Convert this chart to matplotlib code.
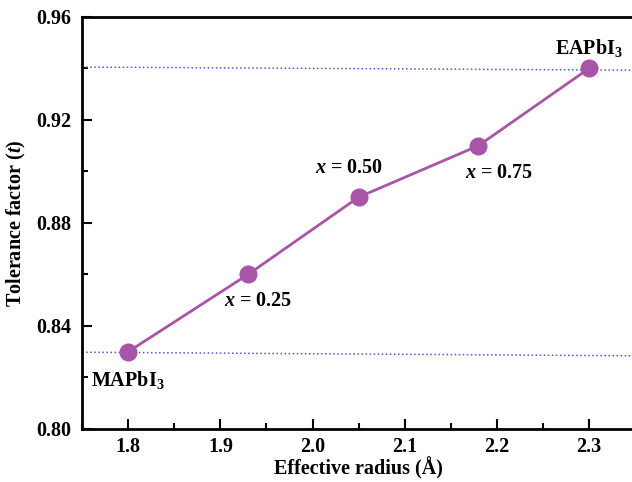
import matplotlib.pyplot as plt
from matplotlib.ticker import MultipleLocator

radius = [1.80, 1.93, 2.05, 2.18, 2.30]
tolerance = [0.83, 0.86, 0.89, 0.91, 0.94]
labels = ['MAPbI$_3$', '$\\mathbfit{x}$ = 0.25', '$\\mathbfit{x}$ = 0.50',
          '$\\mathbfit{x}$ = 0.75', 'EAPbI$_3$']
label_pos = [(1.80, 0.8190), (1.941, 0.8496), (2.040, 0.9014), (2.202, 0.8992), (2.30, 0.9480)]

ref_x = [1.75, 2.35]
ref_top = [0.9405, 0.9393]
ref_bottom = [0.8298, 0.8284]

plt.rcParams['font.family'] = 'Liberation Serif'
plt.rcParams['font.weight'] = 'bold'
plt.rcParams['mathtext.fontset'] = 'custom'
plt.rcParams['mathtext.rm'] = 'Liberation Serif:bold'
plt.rcParams['mathtext.it'] = 'Liberation Serif:italic:bold'
plt.rcParams['mathtext.bf'] = 'Liberation Serif:bold'
plt.rcParams['mathtext.bfit'] = 'Liberation Serif:italic:bold'

fig = plt.figure(figsize=(6.32, 4.82), dpi=100)
ax = fig.add_axes([0.13, 0.11, 0.875, 0.855])

ax.plot(ref_x, ref_top, ':', color='#4a5ad0', lw=1.1)
ax.plot(ref_x, ref_bottom, ':', color='#4a5ad0', lw=1.1)
ax.plot(radius, tolerance, '-o', color='#a855a8', lw=2, ms=12, zorder=3)

for (lx, ly), txt in zip(label_pos, labels):
    ax.text(lx, ly, txt, ha='center', va='center', fontsize=14.5, fontweight='bold')

ax.set_xlim(1.75, 2.35)
ax.set_ylim(0.80, 0.96)
ax.xaxis.set_major_locator(MultipleLocator(0.1))
ax.xaxis.set_minor_locator(MultipleLocator(0.05))
ax.yaxis.set_major_locator(MultipleLocator(0.04))
ax.yaxis.set_minor_locator(MultipleLocator(0.02))
ax.tick_params(which='both', direction='in', width=1.5, labelsize=14.5)
ax.tick_params(axis='x', pad=6)
ax.tick_params(axis='y', pad=8)
ax.tick_params(which='major', length=7)
ax.tick_params(which='minor', length=4)
ax.set_yticks([0.80, 0.84, 0.88, 0.92, 0.96])
ax.set_yticklabels(['0.80', '0.84', '0.88', '0.92', '0.96'])
for s in ax.spines.values():
    s.set_linewidth(2)
ax.spines['right'].set_visible(False)

ax.set_xlabel('Effective radius (Å)', fontsize=14.5, fontweight='bold', labelpad=0)
ax.set_ylabel('Tolerance factor ($\\mathbfit{t}$)', fontsize=14.5, fontweight='bold', labelpad=6)

plt.savefig('out.png')
